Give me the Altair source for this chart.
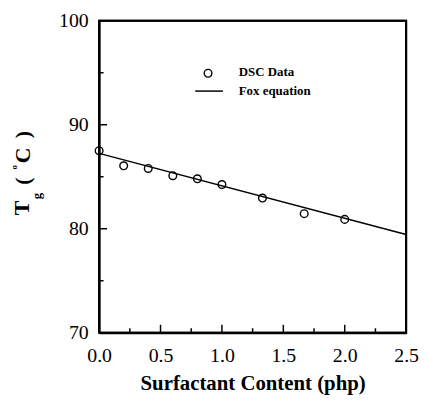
import altair as alt
import pandas as pd

# ---- data ----
content = [0.0, 0.2, 0.4, 0.6, 0.8, 1.0, 1.33, 1.67, 2.0]
tg_dsc = [87.5, 86.05, 85.8, 85.1, 84.8, 84.25, 82.95, 81.45, 80.9]
fox_x = [0.0, 2.5]
fox_y = [87.25, 79.45]
x_major = [0.0, 0.5, 1.0, 1.5, 2.0, 2.5]
x_minor = [0.25, 0.75, 1.25, 1.75, 2.25]
y_major = [70, 80, 90, 100]
y_minor = [75, 85, 95]
frame_x = [0.0, 0.0, 2.5, 2.5, 0.0]
frame_y = [70, 100, 100, 70, 70]

W, H = 310, 315
FONT = "Liberation Serif"

xs = alt.Scale(domain=[0, 2.5], nice=False, zero=False)
ys = alt.Scale(domain=[70, 100], nice=False, zero=False)

x_axis = alt.Axis(values=x_major, format=".1f", ticks=False, tickSize=0,
                  domain=True, domainColor="black", domainWidth=2,
                  grid=False, labelFlush=False, labelFont=FONT, labelFontSize=20,
                  labelColor="black", labelPadding=13, title="Surfactant Content (php)",
                  titleFont=FONT, titleFontSize=21, titleFontWeight="bold",
                  titleColor="black", titlePadding=7)
y_axis = alt.Axis(values=y_major, format="d", ticks=False, tickSize=0,
                  domain=True, domainColor="black", domainWidth=2,
                  grid=False, labelFlush=False, labelFont=FONT, labelFontSize=20,
                  labelColor="black", labelPadding=11, title=None)


def X(f):
    return alt.X(f"{f}:Q", scale=xs, axis=x_axis)


def Y(f):
    return alt.Y(f"{f}:Q", scale=ys, axis=y_axis)


dsc = pd.DataFrame({"x": content, "y": tg_dsc})
fox = pd.DataFrame({"x": fox_x, "y": fox_y})
frm = pd.DataFrame({"x": frame_x, "y": frame_y, "o": list(range(len(frame_x)))})
one = pd.DataFrame({"a": [0]})

frame = alt.Chart(frm).mark_line(color="black", strokeWidth=2, strokeJoin="miter").encode(
    x=X("x"), y=Y("y"), order="o:Q")

points = alt.Chart(dsc).mark_point(shape="circle", filled=False, color="black", opacity=1,
                                   size=60, strokeWidth=1.4).encode(x=X("x"), y=Y("y"))
line = alt.Chart(fox).mark_line(color="black", strokeWidth=1.5).encode(x=X("x"), y=Y("y"))


# inward ticks
def xticks(vals, ln):
    return alt.Chart(pd.DataFrame({"x": vals})).mark_rule(color="black", strokeWidth=1.5).encode(
        x=X("x"), y=alt.value(H), y2=alt.value(H - ln))


def yticks(vals, ln):
    return alt.Chart(pd.DataFrame({"y": vals})).mark_rule(color="black", strokeWidth=1.5).encode(
        y=Y("y"), x=alt.value(0), x2=alt.value(ln))


def txt(s, x, y, size, bold=True, angle=0, align="center"):
    return alt.Chart(one).mark_text(text=s, font=FONT, fontSize=size,
                                    fontWeight="bold" if bold else "normal",
                                    angle=angle, align=align, baseline="middle",
                                    color="black").encode(x=alt.value(x), y=alt.value(y))


# y title: T_g ( °C )
ytitle = [
    txt("T", -78, 189, 22, angle=270),
    txt("g", -63, 177, 13, angle=270),
    txt("(", -77, 162, 22, angle=270),
    txt("o", -86, 148, 9, angle=270),
    txt("C", -77, 136, 22, angle=270),
    txt(")", -77, 115, 22, angle=270),
]

# legend
leg_point = alt.Chart(one).mark_point(shape="circle", filled=False, color="black", opacity=1,
                                      size=60, strokeWidth=1.4).encode(
    x=alt.value(110), y=alt.value(53))
leg_line = alt.Chart(one).mark_rule(color="black", strokeWidth=1.5).encode(
    x=alt.value(97), x2=alt.value(125), y=alt.value(71))
leg_t1 = txt("DSC Data", 141, 52, 13, align="left")
leg_t2 = txt("Fox equation", 141, 71, 13, align="left")

chart = alt.layer(
    frame, line, points,
    xticks(x_major, 8), xticks(x_minor, 4.5),
    yticks(y_major, 8), yticks(y_minor, 4.5),
    leg_point, leg_line, leg_t1, leg_t2,
    *ytitle,
).properties(
    width=W, height=H,
    padding={"left": 92, "top": 11, "right": 14, "bottom": 62},
    autosize=alt.AutoSizeParams(type="none"),
    background="white",
).configure_view(stroke="black", strokeWidth=2)

chart.save("out.html", embed_options={"renderer": "svg", "actions": False})
